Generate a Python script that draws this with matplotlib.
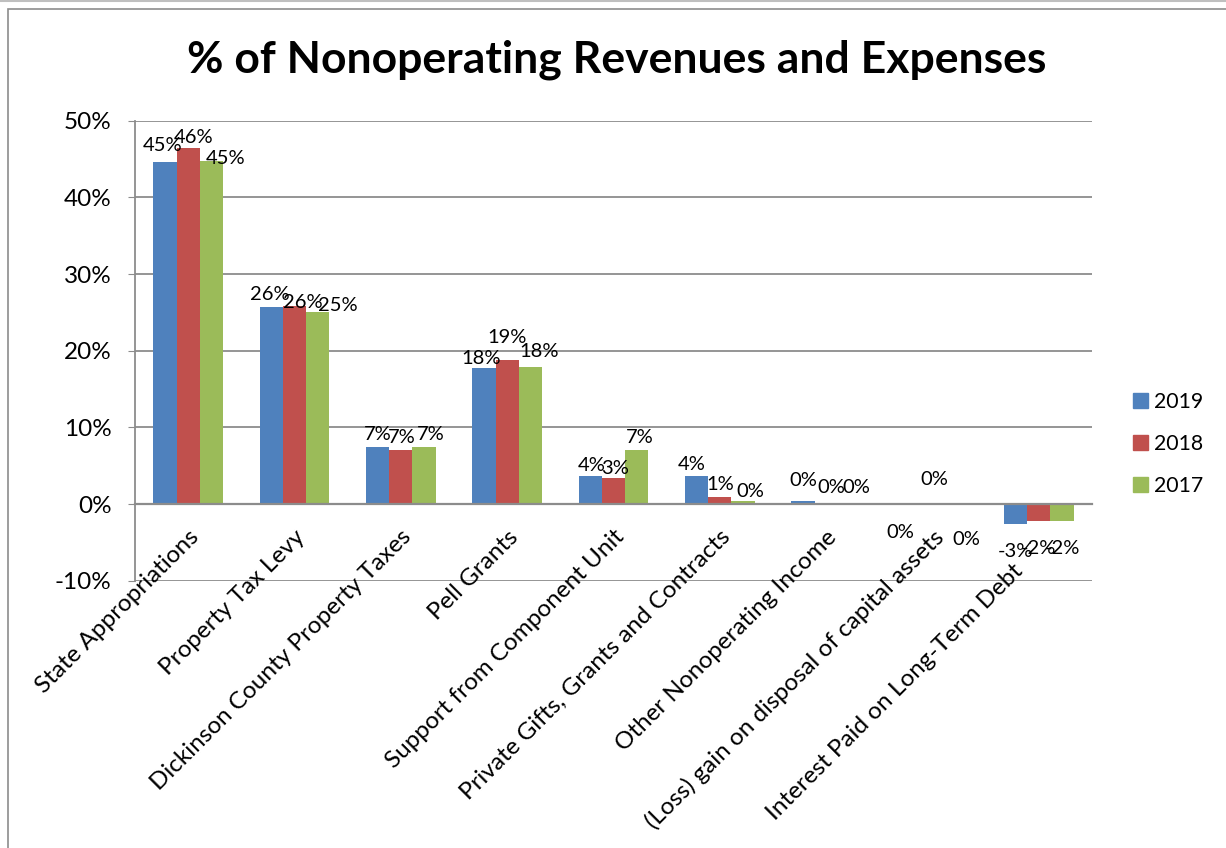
import matplotlib.pyplot as plt
from matplotlib.patches import Rectangle
from matplotlib.lines import Line2D
import numpy as np

plt.rcParams['font.family'] = ['Lato', 'DejaVu Sans']

categories = ['State Appropriations', 'Property Tax Levy', 'Dickinson County Property Taxes',
              'Pell Grants', 'Support from Component Unit', 'Private Gifts, Grants and Contracts',
              'Other Nonoperating Income', '(Loss) gain on disposal of capital assets',
              'Interest Paid on Long-Term Debt']
years = ['2019', '2018', '2017']
v2019 = [44.55, 25.7, 7.4, 17.7, 3.65, 3.65, 0.35, 0.0, -2.55]
v2018 = [46.4, 25.8, 7.1, 18.8, 3.4, 0.9, 0.0, 0.0, -2.2]
v2017 = [44.8, 25.0, 7.4, 17.9, 7.04, 0.35, 0.0, 0.0, -2.26]
colors = ['#4F81BD', '#C0504D', '#9BBB59']

# label nudges in pixels (dx, dy up), Excel moved these to avoid overlaps
nudge = {(0, 0): (-2, 4), (0, 1): (5, -2), (0, 2): (14, -10),
         (1, 0): (-1, 0), (1, 1): (8, -9), (1, 2): (20, -6),
         (2, 1): (1, 0), (2, 2): (7, 0),
         (3, 0): (-3, -3), (3, 2): (9, 3), (3, 1): (0, 10),
         (4, 0): (1, -2), (4, 1): (2, -3), (4, 2): (3, 0),
         (5, 0): (-5, -1), (5, 2): (7, -3),
         (6, 0): (0, 8), (6, 1): (5, 4), (6, 2): (7, 4),
         (7, 0): (-9, -41), (7, 1): (2, 12), (7, 2): (11, -48)}

fig = plt.figure(figsize=(12.26, 8.48), dpi=100)
ax = fig.add_axes([135/1226, 1-580.7/848, 957/1226, 460/848])

x = np.arange(len(categories))
w = 0.219
series = [v2019, v2018, v2017]
for j, vals in enumerate(series):
    bars = ax.bar(x + (j-1)*w, vals, w, color=colors[j], label=years[j], zorder=3)
    for i, (b, v) in enumerate(zip(bars, vals)):
        dx, dy = nudge.get((i, j), (0, 0))
        xc = b.get_x() + b.get_width()/2
        txt = f"{int(round(float(v)))}%"
        if v < 0:
            ax.annotate(txt, (xc, v), xytext=(dx, -19+dy), textcoords='offset pixels',
                        ha='center', va='top', fontsize=14.5, zorder=5)
        else:
            ax.annotate(txt, (xc, v), xytext=(dx, 4+dy), textcoords='offset pixels',
                        ha='center', va='bottom', fontsize=14.5, zorder=5)

ax.set_ylim(-10, 50)
ax.set_xlim(-0.5, len(categories)-0.5)
ax.set_yticks(range(-10, 51, 10))
ax.set_yticklabels([f"{t}%" for t in range(-10, 51, 10)], fontsize=17.5)
ax.yaxis.grid(True, color='#8c8c8c', linewidth=1.3, zorder=0)
ax.set_axisbelow(True)
for s in ['top', 'right']:
    ax.spines[s].set_visible(False)
ax.spines['left'].set_color('#8c8c8c')
ax.spines['left'].set_linewidth(1.3)
ax.spines['bottom'].set_position(('data', 0))
ax.spines['bottom'].set_color('#8c8c8c')
ax.spines['bottom'].set_linewidth(1.6)
ax.spines['bottom'].set_zorder(4)
ax.set_xticks(x)
ax.set_xticklabels([])
ax.tick_params(axis='x', length=0)
ax.tick_params(axis='y', length=5, color='#8c8c8c', pad=12)

# category names hang from the zero line, rotated like Excel does
cat_shift = [(0, -22)] * 8 + [(-27, -56)]
for i, name in enumerate(categories):
    ax.annotate(name, (x[i], 0), xytext=cat_shift[i], textcoords='offset pixels',
                rotation=45, ha='right', va='top', rotation_mode='anchor', fontsize=17.5,
                annotation_clip=False)

fig.text(617/1226, 1-60/848, '% of Nonoperating Revenues and Expenses', ha='center', va='center',
         fontsize=32, fontweight='bold')

handles = [Rectangle((0, 0), 1, 1, color=c) for c in colors]
fig.legend(handles, years, loc='center left', bbox_to_anchor=(1133/1226, 1-444/848),
           frameon=False, fontsize=15.3, handlelength=0.7, handleheight=0.7,
           labelspacing=1.05, handletextpad=0.3, borderpad=0, borderaxespad=0)

fig.patches.append(Rectangle((8/1226, -0.1), 1.2, 1-9/848+0.1, transform=fig.transFigure,
                             fill=False, edgecolor='#8c8c8c', linewidth=1.2))
fig.lines.append(Line2D([0, 1], [1-1/848, 1-1/848], transform=fig.transFigure,
                        color='#bfbfbf', linewidth=1.5))

fig.savefig('out.png', dpi=100)
